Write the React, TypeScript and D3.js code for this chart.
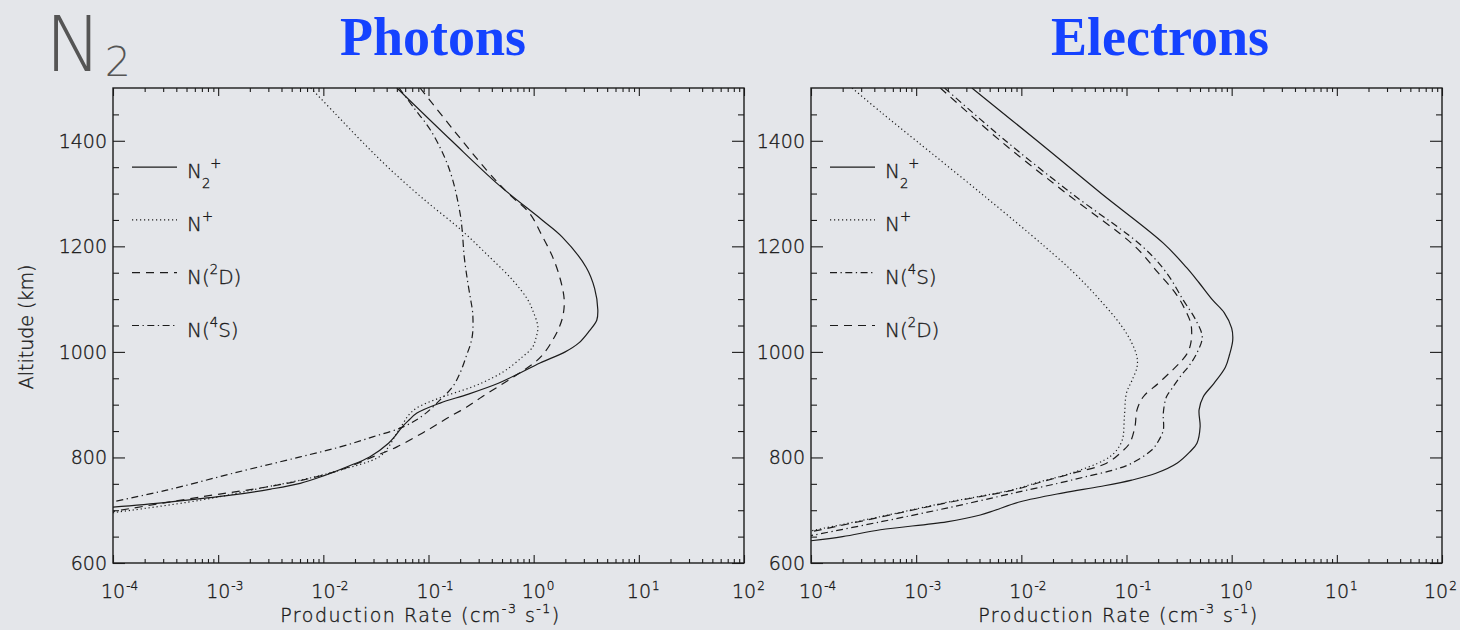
import React, { useEffect, useRef } from 'react';
import * as d3 from 'd3';

// each point: [altitude (km), log10 production rate (cm^-3 s^-1)]
type Pt = [number, number];

const photonN2p: Pt[] = [
  [1500, -1.30], [1400, -0.78], [1316, -0.33], [1250, 0.08], [1218, 0.27], [1160, 0.50],
  [1120, 0.58], [1080, 0.61], [1060, 0.60], [1040, 0.53], [1017, 0.43], [1000, 0.30],
  [979, 0.06], [960, -0.13], [941, -0.33], [920, -0.62], [903, -0.89], [884, -1.11],
  [870, -1.19], [858, -1.25], [840, -1.32], [827, -1.38], [801, -1.56], [782, -1.78],
  [765, -2.00], [751, -2.22], [740, -2.50], [729, -2.86], [715, -3.49], [705, -4.05],
];
const photonNp: Pt[] = [
  [1500, -2.12], [1450, -1.88], [1400, -1.64], [1345, -1.36], [1290, -1.05], [1231, -0.69],
  [1180, -0.42], [1136, -0.20], [1100, -0.06], [1079, -0.01], [1047, 0.04], [1025, 0.02],
  [1009, -0.01], [990, -0.11], [966, -0.26], [950, -0.40], [934, -0.58], [913, -0.89],
  [894, -1.11], [880, -1.19], [865, -1.24], [840, -1.32], [820, -1.38], [801, -1.47],
  [776, -1.84], [760, -2.15], [744, -2.54], [719, -3.17], [694, -4.05],
];
const photonN2D: Pt[] = [
  [1500, -1.08], [1420, -0.76], [1345, -0.45], [1300, -0.24], [1263, -0.04], [1220, 0.08],
  [1180, 0.18], [1140, 0.25], [1100, 0.29], [1070, 0.28], [1045, 0.24], [1022, 0.18],
  [998, 0.10], [980, 0.01], [960, -0.135], [940, -0.29], [915, -0.49], [895, -0.64],
  [877, -0.80], [860, -0.94], [846, -1.06], [820, -1.30], [801, -1.53], [776, -1.84],
  [757, -2.20], [744, -2.54], [725, -3.17], [696, -4.05],
];
const photonN4S: Pt[] = [
  [1500, -1.28], [1460, -1.13], [1420, -0.98], [1370, -0.85], [1326, -0.77], [1263, -0.70],
  [1231, -0.68], [1180, -0.66], [1136, -0.63], [1100, -0.60], [1074, -0.58], [1036, -0.58],
  [1015, -0.60], [998, -0.63], [960, -0.70], [934, -0.77], [909, -0.89], [880, -1.05],
  [858, -1.24], [839, -1.53], [820, -1.84], [801, -2.22], [770, -2.86], [738, -3.49],
  [714, -4.05],
];

const electronN2p: Pt[] = [
  [1500, -2.47], [1400, -1.85], [1300, -1.24], [1206, -0.65], [1160, -0.43], [1131, -0.31],
  [1098, -0.18], [1074, -0.07], [1045, 0.0], [1022, 0.01], [995, -0.02], [971, -0.06],
  [940, -0.17], [915, -0.27], [890, -0.31], [858, -0.30], [827, -0.33], [810, -0.40],
  [789, -0.52], [770, -0.72], [757, -0.95], [745, -1.25], [733, -1.60], [716, -2.01],
  [700, -2.25], [691, -2.39], [678, -2.71], [663, -3.34], [650, -3.70], [641, -4.05],
];
const electronNp: Pt[] = [
  [1500, -3.61], [1450, -3.31], [1400, -3.00], [1300, -2.38], [1200, -1.78], [1150, -1.50],
  [1100, -1.26], [1050, -1.05], [1017, -0.95], [990, -0.90], [971, -0.90], [945, -0.95],
  [922, -1.00], [877, -1.02], [833, -1.04], [810, -1.11], [795, -1.21], [770, -1.53],
  [753, -1.84], [738, -2.10], [714, -2.73], [687, -3.36], [659, -4.05],
];
const electronN4S: Pt[] = [
  [1500, -2.73], [1400, -2.15], [1300, -1.52], [1200, -0.85], [1150, -0.62], [1098, -0.46],
  [1060, -0.34], [1028, -0.28], [998, -0.33], [975, -0.40], [953, -0.49], [930, -0.57],
  [915, -0.62], [884, -0.65], [852, -0.65], [830, -0.70], [814, -0.76], [789, -0.95],
  [776, -1.13], [763, -1.40], [751, -1.65], [738, -1.95], [729, -2.15], [704, -2.71],
  [678, -3.34], [650, -4.05],
];
const electronN2D: Pt[] = [
  [1500, -2.77], [1400, -2.20], [1300, -1.57], [1200, -0.92], [1150, -0.70], [1110, -0.53],
  [1079, -0.44], [1055, -0.39], [1036, -0.38], [1015, -0.39], [998, -0.42], [980, -0.49],
  [966, -0.56], [940, -0.70], [915, -0.84], [890, -0.90], [858, -0.92], [827, -0.97],
  [810, -1.05], [789, -1.19], [770, -1.51], [753, -1.82], [738, -2.08], [714, -2.71],
  [687, -3.34], [657, -4.05],
];

const decades = [-4, -3, -2, -1, 0, 1, 2];
const altMajor = [600, 800, 1000, 1200, 1400];
const altMinor = [650, 700, 750, 850, 900, 950, 1050, 1100, 1150, 1250, 1300, 1350, 1450];

// label pieces: [text, 0 normal | 1 subscript | 2 superscript]
type Seg = [string, number];
const labN2p: Seg[] = [['N', 0], ['2', 1], ['+', 2]];
const labNp: Seg[] = [['N', 0], ['+', 2]];
const labN2D: Seg[] = [['N(', 0], ['2', 2], ['D)', 0]];
const labN4S: Seg[] = [['N(', 0], ['4', 2], ['S)', 0]];
const xTitle: Seg[] = [['Production Rate (cm', 0], ['-3', 2], [' s', 0], ['-1', 2], [')', 0]];

const dashes: Record<string, string | null> = {
  solid: null,
  dotted: '1.2 2.8',
  dashed: '8 6',
  dashdot: '7 3.5 1.3 3.5',
};

const W = 1460;
const H = 630;
const TOP = 88;
const BOTTOM = 563;
const INK = '#1c1c1c';
const TXT = '#1a1a1a';
const SANS = '"DejaVu Sans", Verdana, sans-serif';
const LIGHT = 200;

const panels = [
  {
    id: 'ph', title: 'Photons', titleX: 433, x0: 113, x1: 744, yTitle: true,
    series: [
      { data: photonN2p, dash: 'solid', label: labN2p },
      { data: photonNp, dash: 'dotted', label: labNp },
      { data: photonN2D, dash: 'dashed', label: labN2D },
      { data: photonN4S, dash: 'dashdot', label: labN4S },
    ],
  },
  {
    id: 'el', title: 'Electrons', titleX: 1160, x0: 811, x1: 1442, yTitle: false,
    series: [
      { data: electronN2p, dash: 'solid', label: labN2p },
      { data: electronNp, dash: 'dotted', label: labNp },
      { data: electronN4S, dash: 'dashdot', label: labN4S },
      { data: electronN2D, dash: 'dashed', label: labN2D },
    ],
  },
];

function richText(sel: any, segs: Seg[], size: number) {
  let cur = 0;
  segs.forEach(([t, kind]) => {
    const off = kind === 1 ? size * 0.5 : kind === 2 ? -size * 0.5 : 0;
    sel.append('tspan')
      .attr('dy', off - cur)
      .attr('font-size', kind === 0 ? size : size * 0.66)
      .text(t);
    cur = off;
  });
}

// thin axis-style lettering
function label(sel: any) {
  return sel
    .attr('font-family', SANS)
    .attr('font-weight', LIGHT)
    .attr('fill', TXT)
    .attr('stroke', TXT)
    .attr('stroke-width', 0.35);
}

export default function App() {
  const ref = useRef<SVGSVGElement>(null);

  useEffect(() => {
    const svg = d3.select(ref.current);
    svg.selectAll('*').remove();

    svg.append('rect').attr('width', W).attr('height', H).attr('fill', '#e4e6ea');

    // big N2 label
    const n2 = svg.append('text')
      .attr('x', 45).attr('y', 71)
      .attr('fill', '#555')
      .attr('font-family', SANS)
      .attr('font-weight', LIGHT);
    n2.append('tspan').attr('font-size', 76).text('N');
    n2.append('tspan').attr('font-size', 41).attr('dy', 5).attr('dx', 3).text('2');

    const y = d3.scaleLinear().domain([600, 1500]).range([BOTTOM, TOP]);

    panels.forEach((p) => {
      const x = d3.scaleLog().domain([1e-4, 1e2]).range([p.x0, p.x1]);
      const g = svg.append('g');

      svg.append('text')
        .attr('x', p.titleX).attr('y', 55)
        .attr('text-anchor', 'middle')
        .attr('font-family', '"Liberation Serif", "Times New Roman", serif')
        .attr('font-weight', 'bold')
        .attr('font-size', 54)
        .attr('fill', '#1542ff')
        .text(p.title);

      // ticks, all four sides, pointing inward
      const majorX = decades.map((d) => 10 ** d);
      const minorX: number[] = [];
      decades.slice(0, -1).forEach((d) => {
        for (let k = 2; k <= 9; k++) minorX.push(k * 10 ** d);
      });
      const tidy = (s: any) => {
        s.select('.domain').remove();
        s.selectAll('text').remove();
        s.selectAll('line').attr('stroke', INK).attr('stroke-width', 1.1);
      };
      const put = (axis: any, tr: string) => g.append('g').attr('transform', tr).call(axis).call(tidy);

      put(d3.axisBottom(x).tickValues(majorX).tickSize(-8), `translate(0,${BOTTOM})`);
      put(d3.axisBottom(x).tickValues(minorX).tickSize(-4), `translate(0,${BOTTOM})`);
      put(d3.axisTop(x).tickValues(majorX).tickSize(-8), `translate(0,${TOP})`);
      put(d3.axisTop(x).tickValues(minorX).tickSize(-4), `translate(0,${TOP})`);
      put(d3.axisLeft(y).tickValues(altMajor).tickSize(-12), `translate(${p.x0},0)`);
      put(d3.axisLeft(y).tickValues(altMinor).tickSize(-6), `translate(${p.x0},0)`);
      put(d3.axisRight(y).tickValues(altMajor).tickSize(-12), `translate(${p.x1},0)`);
      put(d3.axisRight(y).tickValues(altMinor).tickSize(-6), `translate(${p.x1},0)`);

      g.append('rect')
        .attr('x', p.x0).attr('y', TOP)
        .attr('width', p.x1 - p.x0).attr('height', BOTTOM - TOP)
        .attr('fill', 'none').attr('stroke', INK).attr('stroke-width', 1.4);

      // tick labels: "10" centred on the tick, exponent hanging to the right
      decades.forEach((d) => {
        const t = label(g.append('text'))
          .attr('x', Math.min(x(10 ** d) - 12, W - 36)).attr('y', 598);
        t.append('tspan').attr('font-size', 19).text('10');
        t.append('tspan').attr('font-size', 12).attr('dy', -8).attr('dx', 1).text(String(d));
      });
      altMajor.forEach((a) => {
        label(g.append('text'))
          .attr('x', p.x0 - 6).attr('y', y(a) + 7)
          .attr('text-anchor', 'end')
          .attr('font-size', 19)
          .text(a);
      });

      // axis titles
      const xt = label(g.append('text'))
        .attr('x', (p.x0 + p.x1) / 2 - 8).attr('y', 622)
        .attr('text-anchor', 'middle')
        .attr('letter-spacing', 1.5);
      richText(xt, xTitle, 19);

      if (p.yTitle) {
        label(g.append('text'))
          .attr('transform', 'rotate(-90)')
          .attr('x', -327).attr('y', 33)
          .attr('text-anchor', 'middle')
          .attr('font-size', 19)
          .text('Altitude (km)');
      }

      // curves
      const clipId = `clip-${p.id}`;
      svg.append('clipPath').attr('id', clipId)
        .append('rect')
        .attr('x', p.x0).attr('y', TOP)
        .attr('width', p.x1 - p.x0).attr('height', BOTTOM - TOP);

      const line = d3.line<Pt>()
        .x((d) => x(10 ** d[1]))
        .y((d) => y(d[0]))
        .curve(d3.curveCatmullRom.alpha(0.5));

      const curves = g.append('g').attr('clip-path', `url(#${clipId})`);
      p.series.forEach((s) => {
        curves.append('path')
          .attr('d', line(s.data))
          .attr('fill', 'none')
          .attr('stroke', INK)
          .attr('stroke-width', 1.2)
          .attr('stroke-dasharray', dashes[s.dash]);
      });

      // legend
      const legX = p.x0 + 19;
      const legY = [1350, 1250, 1150, 1050];
      p.series.forEach((s, i) => {
        const ly = y(legY[i]);
        g.append('line')
          .attr('x1', legX).attr('x2', legX + 45)
          .attr('y1', ly).attr('y2', ly)
          .attr('stroke', INK).attr('stroke-width', 1.2)
          .attr('stroke-dasharray', dashes[s.dash]);
        const t = label(g.append('text'))
          .attr('x', legX + 55).attr('y', ly + 11);
        richText(t, s.label, 20);
      });
    });
  }, []);

  return (
    <svg
      ref={ref}
      width={W}
      height={H}
      style={{ position: 'absolute', left: 0, top: 0, display: 'block' }}
    />
  );
}
